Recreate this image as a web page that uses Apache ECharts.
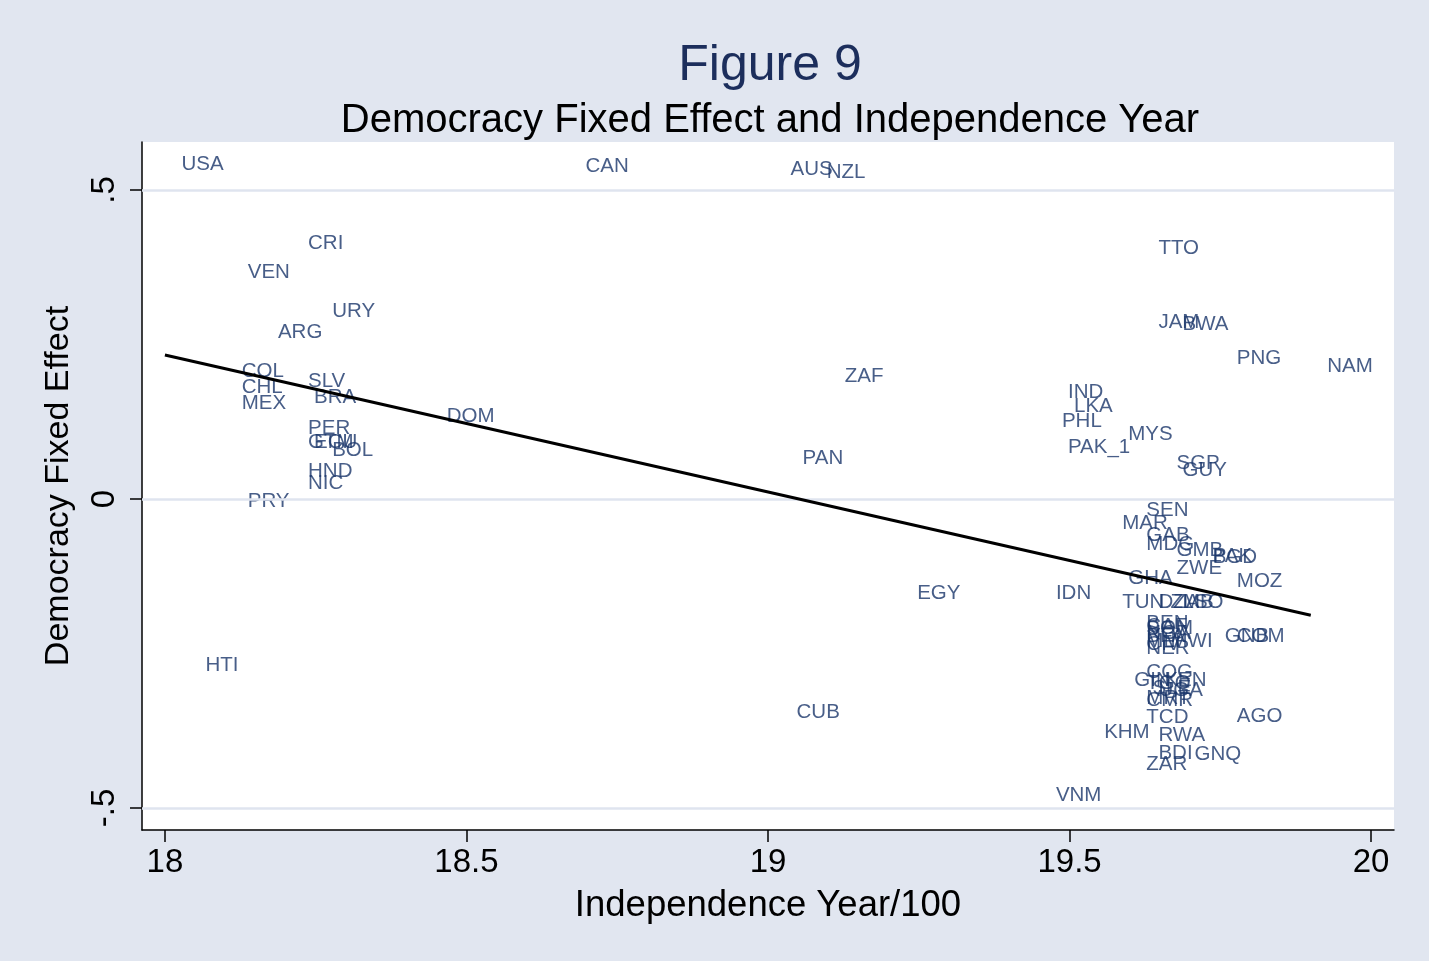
<!DOCTYPE html>
<html>
<head>
<meta charset="utf-8">
<script src="https://cdn.jsdelivr.net/npm/echarts@6/dist/echarts.min.js"></script>
<style>
html,body{margin:0;padding:0;background:#e1e6f0;}
#chart{width:1429px;height:961px;}
</style>
</head>
<body>
<div id="chart"></div>
<script>
const countries = ['USA','CAN','AUS','NZL','CRI','VEN','URY','ARG','COL','CHL','MEX','SLV','BRA','DOM','PER','ECU','GTM','BOL','HND','NIC','PRY','HTI','ZAF','PAN','CUB','EGY','IDN','VNM','TTO','JAM','BWA','PNG','NAM','IND','LKA','PHL','MYS','PAK_1','SGP','GUY','SEN','MAR','GAB','MDG','GMB','BGD','PAK','ZWE','MOZ','GHA','TUN','DZA','ZMB','LSO','BEN','CAF','SOM','NGA','BFA','MLI','CIV','NER','MWI','GNB','COM','COG','GIN','TGO','KEN','UGA','SLE','MRT','CMR','TCD','KHM','AGO','RWA','BDI','GNQ','ZAR'];
const indepYear = [18.00,18.67,19.01,19.07,18.21,18.11,18.25,18.16,18.10,18.10,18.10,18.21,18.22,18.44,18.21,18.22,18.21,18.25,18.21,18.21,18.11,18.04,19.10,19.03,19.02,19.22,19.45,19.45,19.62,19.62,19.66,19.75,19.90,19.47,19.48,19.46,19.57,19.47,19.65,19.66,19.60,19.56,19.60,19.60,19.65,19.71,19.71,19.65,19.75,19.57,19.56,19.62,19.64,19.66,19.60,19.60,19.60,19.60,19.60,19.60,19.60,19.60,19.64,19.73,19.75,19.60,19.58,19.60,19.63,19.62,19.61,19.60,19.60,19.60,19.53,19.75,19.62,19.62,19.68,19.60];
const fixedEffect = [0.542,0.539,0.534,0.528,0.413,0.366,0.303,0.269,0.206,0.181,0.155,0.191,0.165,0.133,0.115,0.092,0.091,0.078,0.044,0.026,-0.003,-0.269,0.199,0.066,-0.345,-0.152,-0.152,-0.479,0.406,0.286,0.283,0.228,0.215,0.173,0.150,0.126,0.104,0.084,0.058,0.047,-0.018,-0.039,-0.058,-0.074,-0.083,-0.095,-0.092,-0.113,-0.133,-0.128,-0.167,-0.167,-0.167,-0.167,-0.202,-0.206,-0.209,-0.217,-0.222,-0.230,-0.235,-0.241,-0.230,-0.223,-0.223,-0.280,-0.294,-0.298,-0.294,-0.309,-0.306,-0.322,-0.325,-0.354,-0.377,-0.351,-0.383,-0.411,-0.413,-0.430];
const fitX = [18.0, 19.9];
const fitY = [0.233, -0.188];
const xTicks = [18, 18.5, 19, 19.5, 20];
const yTicks = [-0.5, 0, 0.5];
const yTickLabels = ['-.5', '0', '.5'];

const scatterData = countries.map((c, i) => [indepYear[i], fixedEffect[i], c]);
const fitData = fitX.map((x, i) => [x, fitY[i]]);

const chart = echarts.init(document.getElementById('chart'));
const FONT = 'Liberation Sans, Arial, sans-serif';
chart.setOption({
  backgroundColor: '#e1e6f0',
  animation: false,
  title: [
    { text: 'Figure 9', left: 765, textAlign: 'center', top: 36, textStyle: { fontFamily: FONT, fontSize: 50, fontWeight: 'normal', color: '#1c2e5c' } },
    { text: 'Democracy Fixed Effect and Independence Year', left: 765, textAlign: 'center', top: 96, textStyle: { fontFamily: FONT, fontSize: 40, fontWeight: 'normal', color: '#000' } }
  ],
  grid: { left: 142, right: 35, top: 142, bottom: 131, backgroundColor: '#ffffff', show: true, borderWidth: 0 },
  xAxis: {
    type: 'value', min: 17.962, max: 20.038,
    name: 'Independence Year/100', nameLocation: 'middle', nameGap: 57,
    nameTextStyle: { fontFamily: FONT, fontSize: 36.5, color: '#000' },
    axisLine: { show: true, onZero: false, lineStyle: { color: '#000', width: 1.5 } },
    axisTick: { show: true, length: 12, customValues: xTicks, lineStyle: { color: '#000', width: 1.5 } },
    axisLabel: { customValues: xTicks, fontFamily: FONT, fontSize: 33, color: '#000', margin: 16, formatter: v => String(v) },
    splitLine: { show: false }
  },
  yAxis: {
    type: 'value', min: -0.5356, max: 0.5777,
    name: 'Democracy Fixed Effect', nameLocation: 'middle', nameGap: 66, nameRotate: 90,
    nameTextStyle: { fontFamily: FONT, fontSize: 34, color: '#000' },
    axisLine: { show: true, onZero: false, lineStyle: { color: '#000', width: 1.5 } },
    axisTick: { show: true, length: 12, customValues: yTicks, lineStyle: { color: '#000', width: 1.5 } },
    axisLabel: { customValues: yTicks, rotate: 90, fontFamily: FONT, fontSize: 33, color: '#000', margin: 21,
      formatter: v => { const i = yTicks.findIndex(t => Math.abs(t - v) < 1e-9); return i >= 0 ? yTickLabels[i] : ''; } },
    splitLine: { show: false }
  },
  series: [
    {
      type: 'line', data: [], silent: true,
      markLine: { silent: true, symbol: 'none', label: { show: false },
        lineStyle: { color: '#dfe4ef', width: 2.5, type: 'solid' },
        data: yTicks.map(t => ({ yAxis: t })) }
    },
    {
      type: 'scatter', data: scatterData, symbolSize: 1,
      itemStyle: { color: 'rgba(0,0,0,0)' },
      label: { show: true, position: 'right', distance: 16, offset: [0, 1], formatter: p => p.value[2],
        fontFamily: FONT, fontSize: 20.5, color: '#1a366a' },
      labelLayout: { hideOverlap: false }, z: 3
    },
    {
      type: 'line', data: fitData, symbol: 'none', z: 5,
      lineStyle: { color: '#000', width: 3 }
    }
  ]
});
</script>
</body>
</html>
